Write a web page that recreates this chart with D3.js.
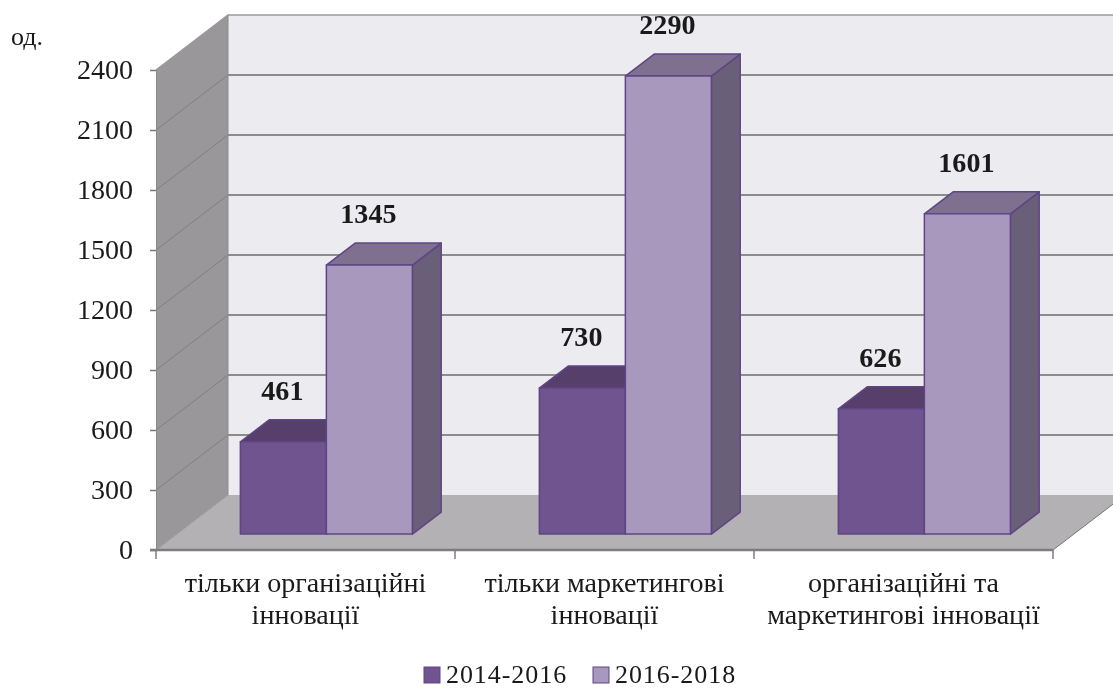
<!DOCTYPE html>
<html>
<head>
<meta charset="utf-8">
<script src="https://cdn.jsdelivr.net/npm/d3@7"></script>
<style>
  html, body { margin: 0; padding: 0; background: #fff; overflow: hidden; }
  svg { display: block; filter: blur(0.6px); }
  text { font-family: "Liberation Serif", serif; fill: #1a1a1a; }
</style>
</head>
<body>
<div class="container"></div>
<script>
const categories = [
  ['тільки організаційні', 'інновації'],
  ['тільки маркетингові', 'інновації'],
  ['організаційні та', 'маркетингові інновації'],
];
const seriesNames = ['2014-2016', '2016-2018'];
const values2014 = [461, 730, 626];
const values2016 = [1345, 2290, 1601];
const yTicks = [0, 300, 600, 900, 1200, 1500, 1800, 2100, 2400];
const unitLabel = 'од.';

const frontColors = ['#6f5490', '#a998be'];
const topColors = ['#573f6c', '#7f708f'];
const sideColors = ['#4f3d63', '#6a5f78'];

const width = 1113, height = 689;
const fontSize = 27;
const stretch = 1.04; // the picture's text is a bit wider than the font

const svg = d3.select('.container').append('svg')
  .attr('width', width)
  .attr('height', height);

const y = d3.scaleLinear().domain([0, 2400]).range([550, 70]);
const x0 = d3.scaleBand().domain(d3.range(categories.length)).range([156, 1053]);
const x1 = d3.scaleBand().domain(d3.range(seriesNames.length)).range([0, x0.bandwidth()]).paddingOuter(0.738).paddingInner(0);

// oblique projection, depth goes from 0 (front) to 1 (back wall)
const depthX = d3.scaleLinear().domain([0, 1]).range([0, 72]);
const depthY = d3.scaleLinear().domain([0, 1]).range([0, -55]);
const pt = (px, py, z) => [px + depthX(z), py + depthY(z)];
const line = d3.line();

const xLeft = x0.range()[0], xRight = x0.range()[1];
const yBase = y(0), yTop = y(2400);

// walls and floor
svg.append('path').attr('fill', '#ecebf0')
  .attr('d', line([pt(xLeft, yTop, 1), pt(xRight, yTop, 1), pt(xRight, yBase, 1), pt(xLeft, yBase, 1)]) + 'Z');
svg.append('path').attr('fill', '#999799')
  .attr('d', line([pt(xLeft, yTop, 0), pt(xLeft, yTop, 1), pt(xLeft, yBase, 1), pt(xLeft, yBase, 0)]) + 'Z');
svg.append('path').attr('fill', '#b3b1b4')
  .attr('d', line([pt(xLeft, yBase, 0), pt(xLeft, yBase, 1), pt(xRight, yBase, 1), pt(xRight, yBase, 0)]) + 'Z');

// gridlines on both walls
yTicks.slice(1, -1).forEach(t => {
  svg.append('path').attr('fill', 'none').attr('stroke', '#7f7f7f').attr('stroke-width', 1)
    .attr('d', line([pt(xLeft, y(t), 0), pt(xLeft, y(t), 1)]));
  svg.append('path').attr('fill', 'none').attr('stroke', '#8c8c8c').attr('stroke-width', 2.2)
    .attr('d', line([pt(xLeft, y(t), 1), pt(xRight, y(t), 1)]));
});
svg.append('path').attr('fill', 'none').attr('stroke', '#9a9a9a').attr('stroke-width', 1.5)
  .attr('d', line([pt(xLeft, yTop, 0), pt(xLeft, yTop, 1), pt(xRight, yTop, 1)]));
svg.append('path').attr('fill', 'none').attr('stroke', '#8c8c8c').attr('stroke-width', 1)
  .attr('d', line([pt(xLeft, yTop, 1), pt(xLeft, yBase, 1)]));
svg.append('path').attr('fill', 'none').attr('stroke', '#9a9a9a').attr('stroke-width', 1)
  .attr('d', line([pt(xLeft, yBase, 0), pt(xLeft, yBase, 1)]));
svg.append('path').attr('fill', 'none').attr('stroke', '#777').attr('stroke-width', 1)
  .attr('d', line([pt(xRight, yBase, 0), pt(xRight, yBase, 1)]));

// y axis
const yAxis = svg.append('g')
  .attr('transform', `translate(${xLeft},0)`)
  .call(d3.axisLeft(y).tickValues(yTicks).tickSize(6).tickPadding(0).tickFormat(d3.format('d')));
yAxis.select('.domain').attr('stroke', '#8c8c8c').attr('stroke-width', 1);
yAxis.selectAll('.tick line').attr('stroke', '#777').attr('stroke-width', 1.5);
yAxis.selectAll('.tick text')
  .attr('x', -23 / stretch)
  .attr('dy', '0.33em')
  .attr('transform', `scale(${stretch},1)`)
  .attr('font-size', fontSize)
  .attr('font-family', '"Liberation Serif", serif')
  .attr('fill', '#1a1a1a');

// x axis: ticks sit on the band edges, labels in the middle
const xAxisLine = svg.append('g');
xAxisLine.append('line')
  .attr('x1', xLeft - 6).attr('x2', xRight)
  .attr('y1', yBase).attr('y2', yBase)
  .attr('stroke', '#7d7d7d').attr('stroke-width', 2.5);
const edges = x0.domain().map(i => x0(i)).concat(xRight);
xAxisLine.selectAll('.edge').data(edges).enter().append('line')
  .attr('class', 'edge')
  .attr('x1', d => d).attr('x2', d => d)
  .attr('y1', yBase).attr('y2', yBase + 9)
  .attr('stroke', '#7d7d7d').attr('stroke-width', 1.5);

// bars: front at depth .29, back at depth .69
const z1 = 0.29, z2 = 0.69;
const groups = x0.domain().map(i => [values2014[i], values2016[i]]);
groups.forEach((vals, i) => {
  vals.forEach((v, s) => {
    const a = x0(i) + x1(s), b = a + x1.bandwidth();
    const t = y(v);
    const g = svg.append('g')
      .attr('stroke', '#5f4585').attr('stroke-width', 1.5).attr('stroke-linejoin', 'round');
    g.append('path').attr('fill', sideColors[s])
      .attr('d', line([pt(b, t, z1), pt(b, t, z2), pt(b, yBase, z2), pt(b, yBase, z1)]) + 'Z');
    g.append('path').attr('fill', topColors[s])
      .attr('d', line([pt(a, t, z1), pt(a, t, z2), pt(b, t, z2), pt(b, t, z1)]) + 'Z');
    g.append('path').attr('fill', frontColors[s])
      .attr('d', line([pt(a, t, z1), pt(b, t, z1), pt(b, yBase, z1), pt(a, yBase, z1)]) + 'Z');
  });
});

function stretchedText(parent, str, px, py, size, anchor) {
  return parent.append('text')
    .attr('transform', `translate(${px},${py}) scale(${stretch},1)`)
    .attr('text-anchor', anchor)
    .attr('font-size', size)
    .text(str);
}

// value labels above the bars
groups.forEach((vals, i) => {
  vals.forEach((v, s) => {
    const c = x0(i) + x1(s) + x1.bandwidth() / 2;
    const p = pt(c, y(v), z1);
    stretchedText(svg, v, p[0] - 1, p[1] - 42, fontSize, 'middle').attr('font-weight', 'bold');
  });
});

// category labels
categories.forEach((lines, i) => {
  const c = x0(i) + x0.bandwidth() / 2;
  lines.forEach((l, k) => {
    stretchedText(svg, l, c, 592 + k * 32, fontSize, 'middle');
  });
});

stretchedText(svg, unitLabel, 11, 45, 25, 'start');

// legend, smaller type so it stays inside the picture's bottom edge
const legendX = d3.scaleOrdinal().domain(seriesNames).range([424, 593]);
seriesNames.forEach((name, s) => {
  svg.append('rect')
    .attr('x', legendX(name)).attr('y', 667)
    .attr('width', 16).attr('height', 16)
    .attr('fill', frontColors[s])
    .attr('stroke', '#5f4585').attr('stroke-width', 1);
  stretchedText(svg, name, legendX(name) + 22, 683, 25, 'start')
    .attr('letter-spacing', '0.9px');
});
</script>
</body>
</html>
